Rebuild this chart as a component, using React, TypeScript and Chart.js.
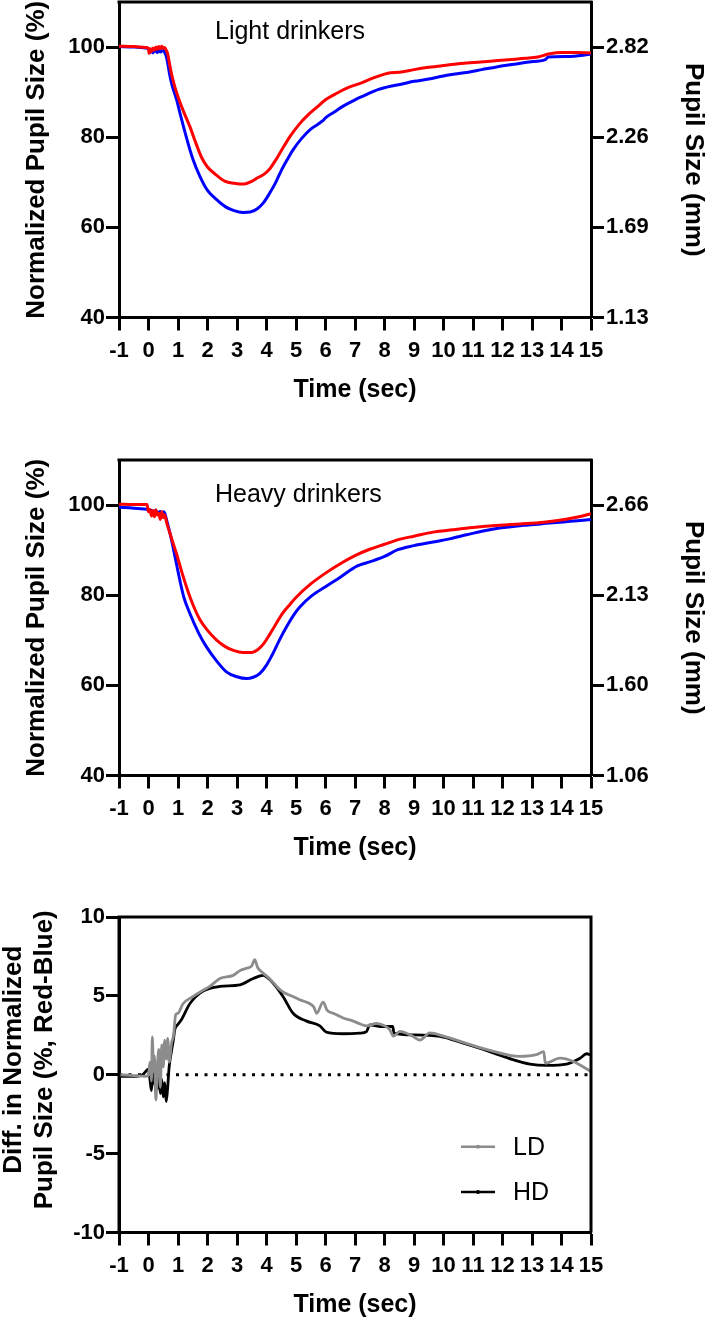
import React, { useEffect, useRef } from 'react';
import { Chart, registerables } from 'chart.js';

Chart.register(...registerables);

const FONT = "'Liberation Sans', Arial, Helvetica, sans-serif";
const RED = '#ff0000';
const BLUE = '#0000ff';
const GRAY = '#8c8c8c';
const BLACK = '#000000';

// ---------- ticks ----------
const TIME_TICKS = [-1, 0, 1, 2, 3, 4, 5, 6, 7, 8, 9, 10, 11, 12, 13, 14, 15];
const PCT_TICKS = [40, 60, 80, 100];
const MM_LABELS_LD = ['1.13', '1.69', '2.26', '2.82'];
const MM_LABELS_HD = ['1.06', '1.60', '2.13', '2.66'];
const DIFF_TICKS = [-10, -5, 0, 5, 10];

// ---------- Light drinkers ----------
const ldRedTime = [-1, -0.5, -0.1, 0, 0.02, 0.05, 0.1, 0.15, 0.2, 0.25, 0.3, 0.35, 0.4, 0.45, 0.5, 0.55, 0.6, 0.65, 0.72, 0.8, 0.9, 1.0, 1.2, 1.4, 1.6, 1.8, 2.0, 2.3, 2.6, 2.9, 3.2, 3.5, 3.7, 3.9, 4.1, 4.3, 4.5, 4.8, 5.1, 5.4, 5.7, 6.0, 6.4, 6.8, 7.2, 7.6, 8.0, 8.2, 8.5, 9.0, 9.5, 10.0, 10.7, 11.5, 12.2, 12.8, 13.2, 13.6, 14.0, 14.5, 15.0];
const ldRedPct = [100.2, 100.1, 99.9, 99.7, 98.6, 99.6, 99.0, 99.8, 99.3, 100.0, 99.5, 100.1, 99.6, 100.2, 99.7, 99.9, 99.3, 98.5, 96.0, 93.5, 91.0, 89.0, 85.5, 82.4, 78.8, 75.5, 73.4, 71.6, 70.2, 69.8, 69.6, 70.2, 71.0, 71.7, 72.9, 74.8, 77.0, 80.2, 82.8, 84.9, 86.6, 88.3, 89.8, 91.1, 92.0, 93.1, 94.0, 94.3, 94.4, 95.0, 95.5, 95.9, 96.4, 96.8, 97.2, 97.5, 97.8, 98.5, 98.8, 98.8, 98.7];

const ldBlueTime = [-1, -0.5, -0.1, 0, 0.05, 0.1, 0.15, 0.2, 0.3, 0.35, 0.4, 0.5, 0.55, 0.6, 0.65, 0.72, 0.8, 0.95, 1.1, 1.25, 1.5, 1.75, 2.0, 2.3, 2.6, 2.9, 3.2, 3.45, 3.7, 3.9, 4.1, 4.3, 4.5, 4.7, 4.9, 5.2, 5.5, 5.9, 6.0, 6.3, 6.6, 7.0, 7.4, 7.8, 8.2, 8.6, 9.0, 9.5, 10.0, 10.7, 11.3, 11.8, 12.4, 12.9, 13.45, 13.55, 14.2, 15.0];
const ldBluePct = [100.1, 100.0, 99.8, 99.6, 98.8, 99.4, 98.7, 99.3, 98.8, 99.4, 98.9, 99.3, 98.8, 98.0, 96.5, 93.8, 91.5, 88.4, 84.5, 80.8, 75.2, 71.2, 68.2, 66.2, 64.6, 63.7, 63.3, 63.4, 64.2, 65.5, 67.5, 69.8, 72.6, 75.0, 77.2, 79.8, 81.8, 83.6, 84.3, 85.6, 86.9, 88.3, 89.5, 90.6, 91.3, 91.8, 92.4, 92.9, 93.6, 94.3, 95.0, 95.6, 96.2, 96.7, 97.2, 97.8, 97.9, 98.4];

// ---------- Heavy drinkers ----------
const hdRedTime = [-1, -0.5, -0.05, 0, 0.05, 0.1, 0.15, 0.2, 0.25, 0.3, 0.35, 0.4, 0.45, 0.5, 0.55, 0.62, 0.72, 0.85, 0.95, 1.1, 1.3, 1.5, 1.75, 2.0, 2.3, 2.6, 2.9, 3.2, 3.5, 3.7, 3.9, 4.1, 4.3, 4.55, 4.8, 5.0, 5.5, 6.0, 6.5, 7.0, 7.5, 8.0, 8.5, 9.0, 9.65, 10.3, 11.0, 11.9, 12.6, 13.4, 14.1, 14.6, 15.0];
const hdRedPct = [100.2, 100.1, 100.1, 98.5, 99.0, 97.6, 98.8, 97.4, 98.9, 97.8, 98.2, 96.8, 98.5, 97.2, 97.8, 96.0, 93.9, 91.2, 89.2, 85.8, 81.6, 78.0, 74.5, 72.2, 70.1, 68.6, 67.7, 67.3, 67.3, 67.9, 69.2, 71.2, 73.4, 76.0, 78.0, 79.5, 82.5, 84.9, 87.0, 88.8, 90.2, 91.3, 92.4, 93.1, 94.0, 94.5, 95.0, 95.5, 95.8, 96.2, 96.8, 97.4, 98.1];

const hdBlueTime = [-1, -0.5, 0, 0.1, 0.2, 0.25, 0.3, 0.4, 0.45, 0.5, 0.55, 0.62, 0.7, 0.78, 0.9, 1.06, 1.2, 1.4, 1.7, 1.96, 2.3, 2.64, 3.0, 3.32, 3.55, 3.77, 4.0, 4.22, 4.45, 4.68, 4.92, 5.13, 5.54, 6.0, 6.5, 7.08, 7.5, 8.0, 8.45, 9.0, 9.65, 10.2, 10.78, 11.3, 11.9, 12.7, 13.6, 14.3, 15.0];
const hdBluePct = [99.5, 99.3, 99.0, 98.8, 98.4, 98.9, 98.2, 98.6, 97.8, 98.5, 98.2, 96.5, 94.5, 92.3, 88.5, 83.4, 79.5, 76.0, 71.6, 68.6, 65.5, 63.0, 61.9, 61.5, 61.8, 62.6, 64.5, 67.1, 70.2, 73.0, 75.6, 77.4, 79.9, 81.9, 84.0, 86.5, 87.4, 88.6, 90.1, 91.0, 91.8, 92.5, 93.4, 94.2, 94.9, 95.5, 96.0, 96.4, 96.8];

// ---------- Difference (Red - Blue) ----------
const ldDiffTime = [-1, -0.5, -0.1, 0, 0.05, 0.1, 0.13, 0.17, 0.2, 0.25, 0.3, 0.35, 0.4, 0.45, 0.5, 0.55, 0.6, 0.65, 0.7, 0.78, 0.85, 0.92, 1.0, 1.17, 1.5, 1.8, 2.08, 2.42, 2.87, 3.1, 3.32, 3.5, 3.6, 3.7, 3.85, 4.1, 4.3, 4.45, 4.6, 4.9, 5.2, 5.36, 5.6, 5.7, 5.92, 6.05, 6.26, 6.6, 6.94, 7.2, 7.4, 7.73, 8.0, 8.18, 8.3, 8.52, 8.9, 9.2, 9.54, 10.0, 10.67, 11.57, 12.58, 13.15, 13.4, 13.45, 13.95, 14.4, 15.0];
const ldDiffPct = [0.0, -0.05, -0.1, 0.0, 0.8, -0.4, 2.4, 0.2, 1.2, -1.6, 0.5, 1.6, -0.8, 1.9, 0.5, 2.2, 1.0, 2.3, 0.8, 2.0, 2.5, 3.8, 3.9, 4.5, 4.95, 5.3, 5.6, 6.1, 6.3, 6.6, 6.75, 6.9, 7.3, 6.8, 6.5, 6.1, 5.7, 5.4, 5.2, 4.96, 4.7, 4.6, 4.3, 3.9, 4.6, 4.1, 3.9, 3.6, 3.4, 3.2, 3.1, 3.25, 3.1, 2.85, 2.45, 2.75, 2.5, 2.2, 2.65, 2.45, 2.05, 1.54, 1.16, 1.27, 1.47, 0.74, 1.05, 0.84, 0.2];

const hdDiffTime = [-1, -0.5, -0.2, 0, 0.05, 0.1, 0.15, 0.2, 0.25, 0.3, 0.35, 0.4, 0.45, 0.5, 0.55, 0.6, 0.65, 0.7, 0.78, 0.85, 0.89, 1.0, 1.12, 1.4, 1.85, 2.42, 3.1, 3.55, 3.89, 4.0, 4.23, 4.56, 4.9, 5.36, 5.81, 6.03, 6.6, 7.17, 7.39, 7.5, 7.84, 8.28, 8.32, 8.97, 9.88, 10.67, 11.57, 12.37, 12.93, 13.5, 14.17, 14.63, 14.85, 15.0];
const hdDiffPct = [-0.1, -0.1, 0.0, 0.35, -0.3, -1.0, 0.1, -0.6, 0.3, -0.9, 0.0, -1.2, -0.3, -1.4, -0.5, -1.7, -0.8, 0.5, 1.5, 2.3, 2.85, 3.2, 3.5, 4.5, 5.3, 5.6, 5.7, 6.1, 6.3, 6.2, 5.8, 4.96, 3.9, 3.4, 3.1, 2.7, 2.6, 2.64, 2.74, 3.16, 3.06, 3.06, 2.64, 2.53, 2.43, 2.0, 1.47, 0.95, 0.68, 0.6, 0.68, 1.05, 1.33, 1.25];

const zeroTime = [-1, 15];
const zeroPct = [0, 0];

const pts = (t: number[], v: number[]) => t.map((x, i) => ({ x, y: v[i] }));

const PLOT_H = 315.5;
const X_AXIS_H = 90;

const tickFont = { family: FONT, size: 22, weight: 'bold' as const };
const titleFont = { family: FONT, size: 26, weight: 'bold' as const };

function xScale() {
  return {
    type: 'linear' as const,
    position: 'bottom' as const,
    min: -1,
    max: 15,
    afterBuildTicks: (s: any) => {
      s.ticks = TIME_TICKS.map((v) => ({ value: v }));
    },
    afterFit: (s: any) => {
      s.height = X_AXIS_H;
      s.paddingLeft = 0;
      s.paddingRight = 0;
    },
    ticks: {
      autoSkip: false,
      maxRotation: 0,
      minRotation: 0,
      padding: 7,
      color: BLACK,
      font: tickFont,
      callback: (v: any) => String(v),
    },
    grid: { display: true, drawOnChartArea: false, drawTicks: true, tickLength: 13, tickWidth: 3, tickColor: BLACK },
    border: { display: true, width: 3, color: BLACK },
    title: {
      display: true,
      text: 'Time (sec)',
      color: BLACK,
      font: { family: FONT, size: 25, weight: 'bold' as const },
      padding: { top: 0, bottom: 2.8 },
    },
  };
}

function leftScale(min: number, max: number, tickVals: number[], titleText: string | null) {
  return {
    type: 'linear' as const,
    position: 'left' as const,
    min,
    max,
    afterBuildTicks: (s: any) => {
      s.ticks = tickVals.map((v) => ({ value: v }));
    },
    afterFit: (s: any) => {
      s.width = 119;
      s.paddingTop = 0;
      s.paddingBottom = 0;
    },
    ticks: { padding: 1, color: BLACK, font: tickFont, callback: (v: any) => String(v) },
    grid: { display: true, drawOnChartArea: false, drawTicks: true, tickLength: 13, tickWidth: 3, tickColor: BLACK },
    border: { display: true, width: 3, color: BLACK },
    title: {
      display: titleText !== null,
      text: titleText || '',
      color: BLACK,
      font: titleFont,
      padding: { top: 21.4, bottom: 0 },
    },
  };
}

function rightScale(labels: string[]) {
  return {
    type: 'linear' as const,
    position: 'right' as const,
    min: 40,
    max: 110,
    afterBuildTicks: (s: any) => {
      s.ticks = PCT_TICKS.map((v) => ({ value: v }));
    },
    afterFit: (s: any) => {
      s.width = 118;
      s.paddingTop = 0;
      s.paddingBottom = 0;
    },
    ticks: { padding: 2, color: BLACK, font: tickFont, callback: (_v: any, i: number) => labels[i] },
    grid: { display: true, drawOnChartArea: false, drawTicks: true, tickLength: 13, tickWidth: 3, tickColor: BLACK },
    border: { display: true, width: 3, color: BLACK },
    title: {
      display: true,
      text: 'Pupil Size (mm)',
      color: BLACK,
      font: titleFont,
      padding: { top: 0.6, bottom: 0 },
    },
  };
}

function framePlugin(sides: boolean) {
  return {
    id: 'frame',
    afterDatasetsDraw(chart: any) {
      const { ctx, chartArea } = chart;
      ctx.save();
      ctx.strokeStyle = BLACK;
      ctx.lineWidth = 3;
      ctx.beginPath();
      ctx.moveTo(chartArea.left - 1.5, chartArea.top);
      ctx.lineTo(chartArea.right + 1.5, chartArea.top);
      if (sides) {
        ctx.moveTo(chartArea.left, chartArea.top);
        ctx.lineTo(chartArea.left, chartArea.bottom);
        ctx.moveTo(chartArea.right, chartArea.top);
        ctx.lineTo(chartArea.right, chartArea.bottom);
      }
      ctx.stroke();
      ctx.restore();
    },
  };
}

function innerTitlePlugin(text: string, dx: number, dy: number) {
  return {
    id: 'innerTitle',
    afterDraw(chart: any) {
      const { ctx, chartArea } = chart;
      ctx.save();
      ctx.fillStyle = BLACK;
      ctx.font = `25px ${FONT}`;
      ctx.textAlign = 'left';
      ctx.textBaseline = 'alphabetic';
      ctx.fillText(text, chartArea.left + dx, chartArea.top + dy);
      ctx.restore();
    },
  };
}

function diffTitlePlugin(lines: string[]) {
  return {
    id: 'diffTitle',
    afterDraw(chart: any) {
      const { ctx, chartArea } = chart;
      const cy = (chartArea.top + chartArea.bottom) / 2 - 15;
      const xs = [14.2, 45.2];
      ctx.save();
      ctx.fillStyle = BLACK;
      ctx.font = `bold 26px ${FONT}`;
      ctx.textAlign = 'center';
      ctx.textBaseline = 'middle';
      lines.forEach((line, i) => {
        ctx.save();
        ctx.translate(xs[i], cy);
        ctx.rotate(-Math.PI / 2);
        ctx.fillText(line, 0, 0);
        ctx.restore();
      });
      ctx.restore();
    },
  };
}

const diffLegendPlugin = {
  id: 'diffLegend',
  afterDraw(chart: any) {
    const { ctx, chartArea } = chart;
    const items = chart.data.datasets.filter((d: any) => d.label === 'LD' || d.label === 'HD');
    const offsets = [229.7, 275];
    ctx.save();
    items.forEach((d: any, i: number) => {
      const y = chartArea.top + offsets[i];
      const x0 = chartArea.right - 130;
      const x1 = chartArea.right - 96;
      ctx.strokeStyle = d.borderColor;
      ctx.lineWidth = 2.5;
      ctx.beginPath();
      ctx.moveTo(x0, y);
      ctx.lineTo(x1, y);
      ctx.stroke();
      ctx.fillStyle = d.borderColor;
      ctx.beginPath();
      ctx.arc((x0 + x1) / 2, y, 2, 0, Math.PI * 2);
      ctx.fill();
      ctx.fillStyle = BLACK;
      ctx.font = `25px ${FONT}`;
      ctx.textAlign = 'left';
      ctx.textBaseline = 'middle';
      ctx.fillText(d.label, chartArea.right - 78, y + 1.2);
    });
    ctx.restore();
  },
};

function lineDs(label: string, color: string, t: number[], v: number[], width = 3) {
  return {
    label,
    data: pts(t, v),
    borderColor: color,
    backgroundColor: color,
    borderWidth: width,
    pointRadius: 0,
    fill: false,
    cubicInterpolationMode: 'monotone' as const,
  };
}

function pupilConfig(
  height: number,
  top: number,
  inner: string,
  innerDy: number,
  redT: number[],
  redV: number[],
  blueT: number[],
  blueV: number[],
  mmLabels: string[]
) {
  return {
    type: 'line' as const,
    data: {
      datasets: [
        { ...lineDs('Red', RED, redT, redV), xAxisID: 'x', yAxisID: 'y' },
        { ...lineDs('Blue', BLUE, blueT, blueV), xAxisID: 'x', yAxisID: 'y' },
      ],
    },
    options: {
      responsive: false,
      animation: false as const,
      layout: { padding: { top, left: 0, right: 0, bottom: height - top - PLOT_H - X_AXIS_H } },
      plugins: { legend: { display: false }, tooltip: { enabled: false } },
      scales: {
        x: xScale(),
        y: leftScale(40, 110, PCT_TICKS, 'Normalized Pupil Size (%)'),
        y1: rightScale(mmLabels),
      },
    },
    plugins: [framePlugin(false), innerTitlePlugin(inner, 96, innerDy)],
  };
}

function diffConfig(height: number, top: number) {
  return {
    type: 'line' as const,
    data: {
      datasets: [
        { ...lineDs('LD', GRAY, ldDiffTime, ldDiffPct, 2.8) },
        { ...lineDs('HD', BLACK, hdDiffTime, hdDiffPct, 2.8) },
        {
          label: 'zero',
          data: pts(zeroTime, zeroPct),
          borderColor: BLACK,
          borderWidth: 3,
          borderDash: [3, 6.5],
          pointRadius: 0,
          fill: false,
        },
      ],
    },
    options: {
      responsive: false,
      animation: false as const,
      layout: { padding: { top, left: 0, right: 118, bottom: height - top - PLOT_H - X_AXIS_H } },
      plugins: { legend: { display: false }, tooltip: { enabled: false } },
      scales: {
        x: xScale(),
        y: leftScale(-10, 10, DIFF_TICKS, null),
      },
    },
    plugins: [framePlugin(true), diffTitlePlugin(['Diff. in Normalized', 'Pupil Size (%, Red-Blue)']), diffLegendPlugin],
  };
}

function ChartCanvas({ height, make }: { height: number; make: (h: number) => any }) {
  const ref = useRef<HTMLCanvasElement | null>(null);
  useEffect(() => {
    if (!ref.current) return;
    const chart = new Chart(ref.current, make(height));
    return () => chart.destroy();
  }, []);
  return <canvas ref={ref} width={709} height={height} style={{ display: 'block', width: 709, height }} />;
}

export default function App() {
  useEffect(() => {
    document.body.style.margin = '0';
  }, []);
  return (
    <div style={{ position: 'absolute', left: 0, top: 0, width: 709, height: 1323, background: '#fff' }}>
      <ChartCanvas
        height={440}
        make={(h) => pupilConfig(h, 2, 'Light drinkers', 37, ldRedTime, ldRedPct, ldBlueTime, ldBluePct, MM_LABELS_LD)}
      />
      <ChartCanvas
        height={450}
        make={(h) => pupilConfig(h, 20, 'Heavy drinkers', 41.7, hdRedTime, hdRedPct, hdBlueTime, hdBluePct, MM_LABELS_HD)}
      />
      <ChartCanvas height={433} make={(h) => diffConfig(h, 27)} />
    </div>
  );
}
